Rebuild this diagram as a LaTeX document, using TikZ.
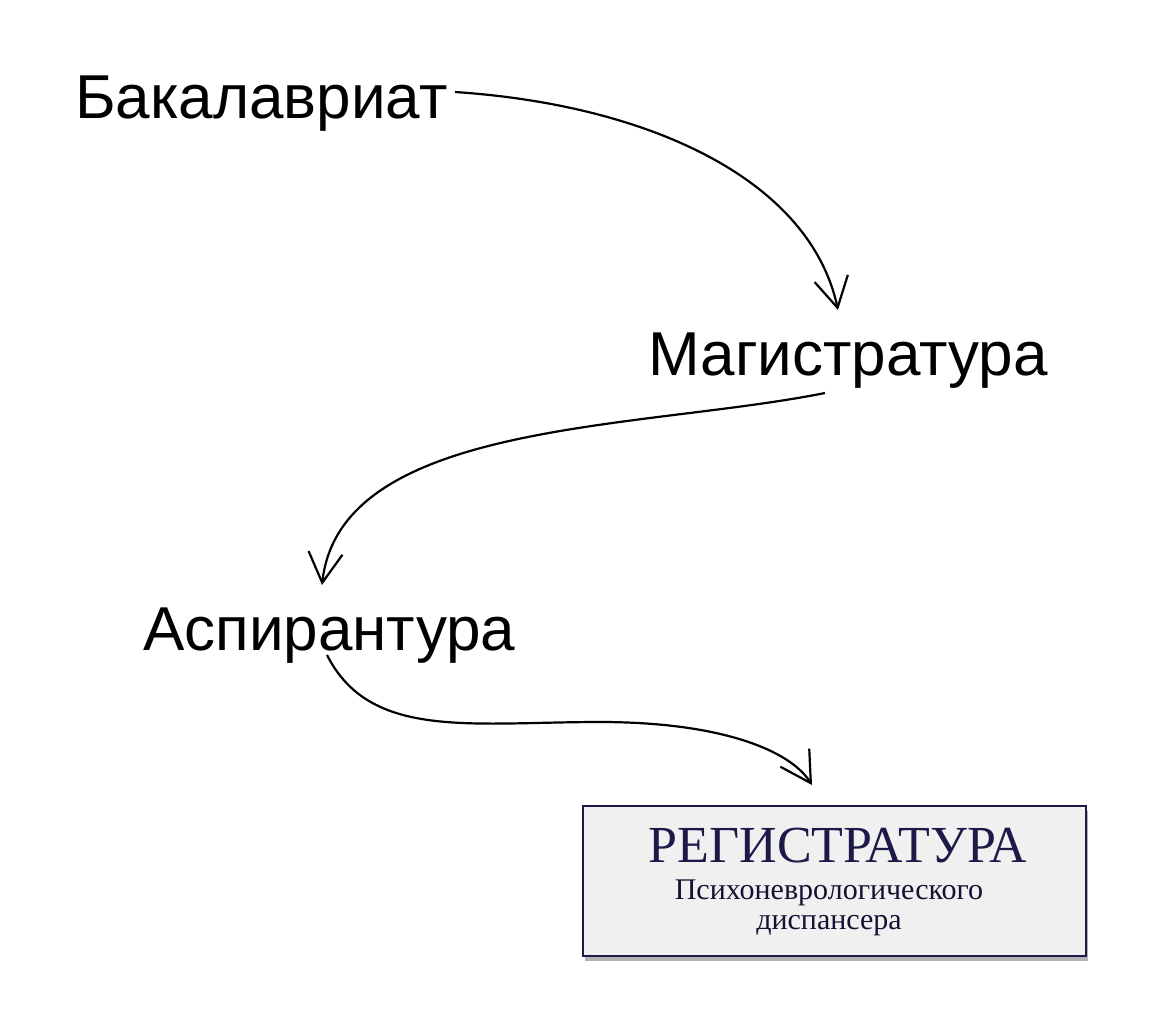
\documentclass[tikz,border=0pt]{standalone}
\usepackage{fontspec}
\setmainfont{Liberation Sans}
\newfontfamily\serifru{Liberation Serif}
\usetikzlibrary{arrows.meta,shadows}
\definecolor{navy}{RGB}{28,26,72}
\tikzset{lbl/.style={font=\fontsize{62}{70}\selectfont,inner sep=0pt,anchor=base west},
 conn/.style={line width=2.2pt,-{Straight Barb[length=30pt,width=34pt,line width=2.2pt]}}}
\begin{document}
\begin{tikzpicture}[x=1pt,y=-1pt]
\useasboundingbox (0,0) rectangle (1169,1017);
\node[lbl] (bak) at (75,118) {Бакалавриат};
\node[lbl] (mag) at (648,375) {Магистратура};
\node[lbl] (asp) at (143,650) {Аспирантура};
\node[draw=navy,line width=1.5pt,fill=gray!12,minimum width=503pt,minimum height=150pt,
  drop shadow={shadow xshift=2pt,shadow yshift=-5pt,opacity=0.6},anchor=north west] (reg) at (582,805) {};
\node[text=navy,font=\serifru\fontsize{52}{56}\selectfont,inner sep=0pt] (t1) at (838,846) {РЕГИСТРАТУРА};
\node[text=navy!70!black,font=\serifru\fontsize{30}{30}\selectfont,align=center,inner sep=0pt] (t2) at (829,908) {Психоневрологического\\диспансера};
\coordinate (a1) at (455,92); \coordinate (b1) at (838,310);
\coordinate (a2) at (825,393); \coordinate (b2) at (322,585);
\coordinate (a3) at (327,655); \coordinate (b3) at (812,785);
\draw[conn] (a1) .. controls (650,105) and (810,180) .. (b1);
\draw[conn] (a2) .. controls (640,430) and (340,420) .. (b2);
\draw[conn] (a3) .. controls (370,740) and (470,722) .. (600,722) .. controls (720,722) and (790,750) .. (b3);
\end{tikzpicture}
\end{document}
